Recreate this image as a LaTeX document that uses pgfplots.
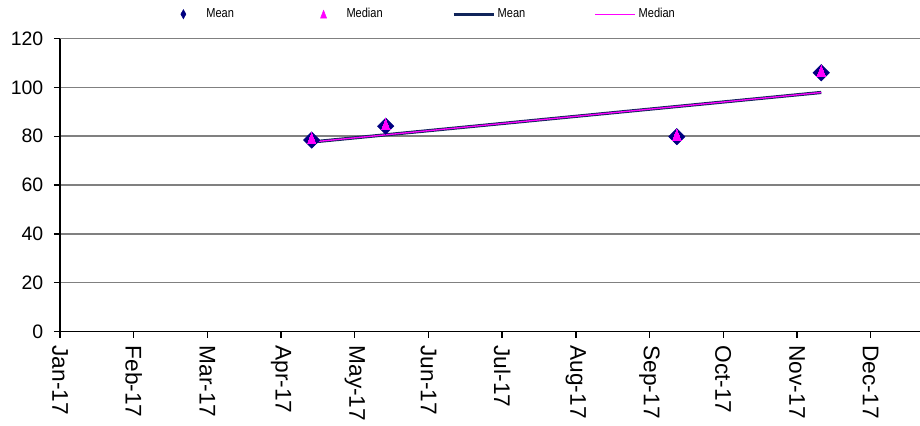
\documentclass[border=0pt]{standalone}
\usepackage{fontspec}
\setmainfont{Liberation Sans}
\usepackage{graphicx}
\usepackage{pgfplots}
\pgfplotsset{compat=1.18}
\definecolor{navyc}{RGB}{0,0,128}
\definecolor{trendnavy}{RGB}{16,36,90}
\definecolor{magc}{RGB}{255,0,255}
\definecolor{gridc}{RGB}{128,128,128}
\begin{document}
\begin{tikzpicture}
\begin{axis}[
  scale only axis, width=645pt, height=219.75pt,
  xmin=0, xmax=11.67, ymin=0, ymax=120,
  axis x line*=bottom, axis y line*=left,
  axis line style={black, line width=1.2pt, -},
  ytick={0,20,...,120},
  xtick={0,1,...,11},
  xticklabels={Jan-17,Feb-17,Mar-17,Apr-17,May-17,Jun-17,Jul-17,Aug-17,Sep-17,Oct-17,Nov-17,Dec-17},
  ymajorgrids, major grid style={gridc, line width=1.1pt},
  tick align=outside, major tick length=4.5pt,
  tick style={black, line width=1pt},
  yticklabel style={font=\fontsize{14.6}{16}\selectfont, anchor=east, xshift=-4.5pt},
  xticklabel style={font=\fontsize{17}{19}\selectfont, rotate=-90, anchor=west, xshift=2.5pt},
  /pgf/number format/assume math mode=true,
  clip=false,
  legend columns=4,
  legend style={draw=none, fill=none, at={(0.419,1.083)}, anchor=center,
    font=\fontsize{9.75}{11}\selectfont, column sep=0pt,
    /tikz/every even column/.append style={column sep=50pt}},
]
\addplot[only marks, mark=square*, mark size=4.3pt,
  mark options={rotate=45, fill=navyc, draw=navyc, line width=0.5pt},
  legend image code/.code={\fill[navyc] (15pt,3.4pt) -- (16.9pt,0pt) -- (15pt,-3.4pt) -- (13.1pt,0pt) -- cycle; \path (0pt,0pt) (30pt,0pt);}]
  coordinates {(3.415,78.4) (4.42,84.1) (8.37,79.8) (10.33,106.0)};
\addlegendentry{\scalebox{0.85}[1]{Mean}}
\addplot[only marks, mark=triangle*, mark size=5.5pt,
  mark options={xscale=0.68, fill=magc, draw=magc, line width=0pt},
  legend image code/.code={\fill[magc] (12.75pt,-2.9pt) -- (17.25pt,-2.9pt) -- (15pt,2.9pt) -- cycle; \path (0pt,0pt) (30pt,0pt);}]
  coordinates {(3.415,78.4) (4.42,84.1) (8.37,79.8) (10.33,106.0)};
\addlegendentry{\scalebox{0.85}[1]{Median}}
\addplot[trendnavy, line width=2.4pt, no marks,
  legend image code/.code={\draw[trendnavy, line width=2.2pt] (0pt,0pt) -- (30pt,0pt);}]
  coordinates {(3.415,77.6) (10.33,97.9)};
\addlegendentry{\scalebox{0.85}[1]{Mean}}
\addplot[magc, line width=1pt, no marks,
  legend image code/.code={\draw[magc, line width=1pt] (0pt,0pt) -- (30pt,0pt);}]
  coordinates {(3.415,77.6) (10.33,97.9)};
\addlegendentry{\scalebox{0.85}[1]{Median}}
\end{axis}
\pgfresetboundingbox
\path[use as bounding box] (-45pt,-70.125pt) rectangle (645pt,248.625pt);
\end{tikzpicture}
\end{document}
